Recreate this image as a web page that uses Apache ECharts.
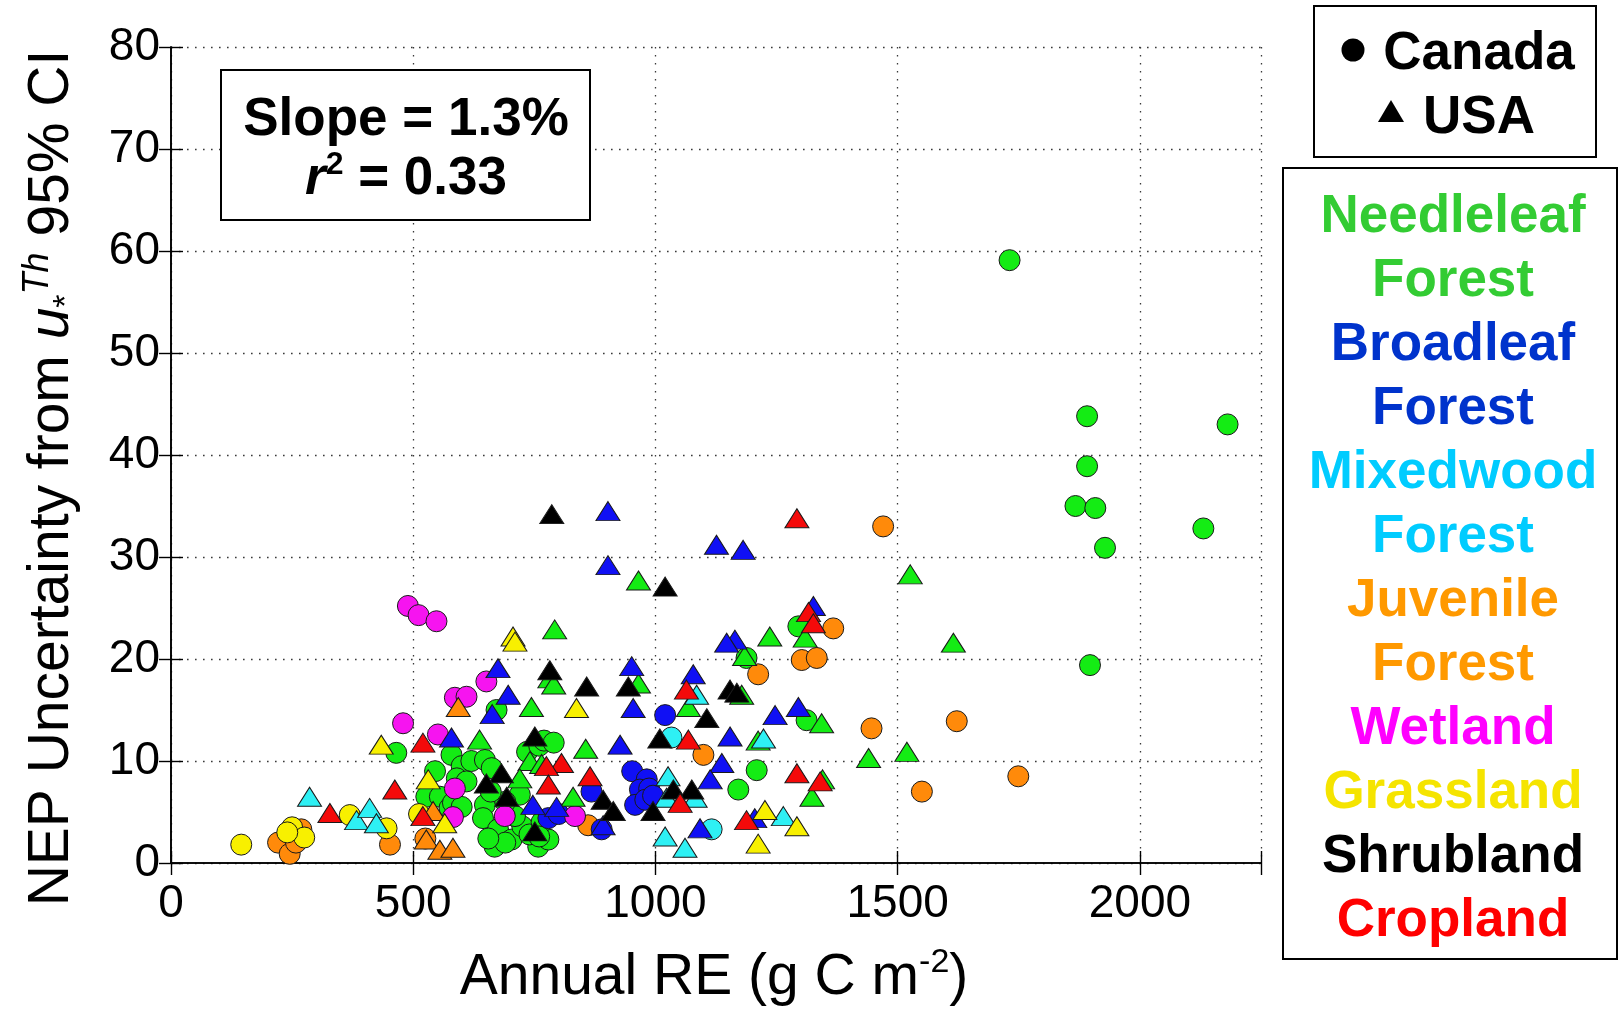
<!DOCTYPE html>
<html><head><meta charset="utf-8">
<script src="https://cdn.jsdelivr.net/npm/echarts@6/dist/echarts.min.js"></script>
<style>html,body{margin:0;padding:0;background:#fff}#c{width:1619px;height:1013px}</style>
</head><body><div id="c"></div>
<script>
// ---------- data ----------
const xTickValues = [0, 500, 1000, 1500, 2000];
const yTickValues = [0, 10, 20, 30, 40, 50, 60, 70, 80];

const landCovers = ['Needleleaf Forest', 'Broadleaf Forest', 'Mixedwood Forest', 'Juvenile Forest',
  'Wetland', 'Grassland', 'Shrubland', 'Cropland'];
const countries = ['Canada', 'USA'];

const needleleafCanada = [[1731,59.1],[1891,43.8],[1891,38.9],[2181,43.0],[1867,35.0],[1908,34.8],[2131,32.8],[1928,30.9],[1897,19.4],
  [1295,23.2],[1188,20.1],[1312,14.0],[1209,9.1],[1171,7.2],[465,10.8],[672,15.0],
  [579,10.6],[600,9.5],[620,10.0],[648,10.1],[662,9.3],[735,10.9],[760,11.5],[770,12.0],[790,11.8],
  [527,6.5],[555,6.5],[575,5.4],[582,5.9],[600,5.5],[590,8.3],[610,8.0],[545,9.0],
  [648,5.7],[720,6.7],[644,4.4],[675,3.3],[703,2.3],[668,1.6],[725,3.6],[758,1.6],[779,2.3],[740,2.8],
  [690,2.0],[655,2.4],[710,4.6],[765,4.0],[690,6.0],[660,7.0],[760,2.6]];
const needleleafUSA = [[792,22.9],[782,18.1],[790,17.5],[744,15.3],[637,12.1],[741,10.0],[765,9.7],[720,8.3],[856,11.2],[830,6.5],
  [965,27.7],[965,17.6],[1068,15.3],[1178,16.5],[1184,20.3],[1236,22.2],[1309,22.1],[1343,13.7],[1323,6.5],[1345,8.2],
  [1212,12.0],[1440,10.3],[1519,10.9],[1526,28.3],[1615,21.6]];
const broadleafCanada = [[1020,14.5],[952,9.0],[982,8.2],[968,7.2],[987,7.3],[958,5.7],[979,6.2],[868,7.0],[889,3.3],[779,4.4],[800,4.8],[995,6.6]];
const broadleafUSA = [[902,34.5],[1126,31.2],[1181,30.7],[902,29.2],[1326,25.2],[1164,21.9],[1147,21.6],[675,19.1],[951,19.3],[696,16.5],
  [663,14.6],[954,15.2],[1078,18.5],[1247,14.5],[1295,15.3],[1154,12.4],[579,12.3],[927,11.6],[1137,9.8],[1113,8.2],
  [747,5.7],[796,5.5],[892,3.7],[1092,3.4],[1205,4.4]];
const mixedwoodCanada = [[1033,12.3],[1116,3.3]];
const mixedwoodUSA = [[286,6.5],[383,4.2],[410,5.4],[424,3.9],[1085,16.5],[1223,12.2],[1026,8.5],[1023,6.4],[1082,6.4],[1020,2.6],[1061,1.5],[1264,4.6]];
const juvenileCanada = [[1470,33.0],[1367,23.0],[1302,19.9],[1333,20.1],[1212,18.5],[1446,13.2],[1622,13.9],[1749,8.5],[1550,7.0],
  [1099,10.6],[861,3.7],[452,1.8],[525,2.4],[221,2.0],[245,0.9],[269,3.3],[258,2.0]];
const juvenileUSA = [[593,15.3],[541,5.1],[527,2.3],[555,1.3],[582,1.5]];
const wetlandCanada = [[489,25.2],[511,24.3],[548,23.7],[651,17.8],[586,16.2],[610,16.3],[479,13.7],[551,12.6],[586,7.3],[582,4.5],[689,4.6],[834,4.6]];
const grasslandCanada = [[145,1.8],[250,3.5],[275,2.5],[240,3.0],[369,4.7],[445,3.4],[512,4.8]];
const grasslandUSA = [[706,22.2],[710,21.7],[837,15.2],[434,11.6],[531,8.2],[565,3.9],[1226,5.2],[1292,3.6],[1212,1.9]];
const shrublandUSA = [[786,34.2],[1020,27.1],[782,18.9],[858,17.3],[944,17.3],[1154,17.0],[1168,16.7],[1106,14.2],[751,12.4],[1009,12.2],
  [682,8.8],[651,7.8],[693,6.5],[892,6.2],[913,5.1],[1037,7.2],[1075,7.2],[995,5.1],[751,3.1]];
const croplandUSA = [[1292,33.8],[1316,24.6],[1326,23.5],[520,11.8],[1068,12.1],[1064,17.0],[806,9.8],[775,9.5],[779,7.7],[865,8.5],
  [462,7.2],[520,4.6],[328,4.9],[1051,5.9],[1188,4.2],[1292,8.8],[1340,8.0]];

// drawing order: [land cover, country, data]
const groups = [
  ['Needleleaf Forest', 'Canada', needleleafCanada],
  ['Juvenile Forest', 'Canada', juvenileCanada],
  ['Grassland', 'Canada', grasslandCanada],
  ['Broadleaf Forest', 'Canada', broadleafCanada],
  ['Mixedwood Forest', 'Canada', mixedwoodCanada],
  ['Wetland', 'Canada', wetlandCanada],
  ['Needleleaf Forest', 'USA', needleleafUSA],
  ['Broadleaf Forest', 'USA', broadleafUSA],
  ['Mixedwood Forest', 'USA', mixedwoodUSA],
  ['Juvenile Forest', 'USA', juvenileUSA],
  ['Grassland', 'USA', grasslandUSA],
  ['Shrubland', 'USA', shrublandUSA],
  ['Cropland', 'USA', croplandUSA]
];

const legendLines = ['Needleleaf', 'Forest', 'Broadleaf', 'Forest', 'Mixedwood', 'Forest', 'Juvenile', 'Forest',
  'Wetland', 'Grassland', 'Shrubland', 'Cropland'];
const legendLineCover = ['Needleleaf Forest', 'Needleleaf Forest', 'Broadleaf Forest', 'Broadleaf Forest',
  'Mixedwood Forest', 'Mixedwood Forest', 'Juvenile Forest', 'Juvenile Forest', 'Wetland', 'Grassland', 'Shrubland', 'Cropland'];

// ---------- styles ----------
const markerColor = {
  'Needleleaf Forest': '#14ec14', 'Broadleaf Forest': '#1010f4', 'Mixedwood Forest': '#2ef0f4',
  'Juvenile Forest': '#ff8a0a', 'Wetland': '#f614f0', 'Grassland': '#f8f000', 'Shrubland': '#000000', 'Cropland': '#f40a0a'
};
const textColor = {
  'Needleleaf Forest': '#33cc33', 'Broadleaf Forest': '#0033cc', 'Mixedwood Forest': '#00ccff',
  'Juvenile Forest': '#ff9900', 'Wetland': '#ff00ff', 'Grassland': '#f5e400', 'Shrubland': '#000000', 'Cropland': '#ff0000'
};
const FONT = "'Liberation Sans', Arial, Helvetica, sans-serif";

const chart = echarts.init(document.getElementById('c'), null, {renderer: 'canvas'});

const series = groups.map(([cover, country, data]) => ({
  type: 'scatter',
  name: cover + ' (' + country + ')',
  data: data,
  symbol: country === 'Canada' ? 'circle' : 'triangle',
  symbolSize: country === 'Canada' ? 21 : [24, 19],
  itemStyle: {color: markerColor[cover], borderColor: '#1a1a1a', borderWidth: 1, opacity: 1},
  emphasis: {disabled: true}
}));

const tickFmt = (arr) => (v) => arr.indexOf(v) >= 0 ? String(v) : '';
const gridDots = {show: true, lineStyle: {color: '#3a3a3a', width: 1.3, type: [1.6, 6.4]}};
const axisLineStyle = {show: true, lineStyle: {color: '#000', width: 1.6}};
const tickStyle = {show: true, inside: true, length: 12, lineStyle: {color: '#000', width: 1.4}};

const legendGraphics = [];
legendGraphics.push({type: 'rect', shape: {x: 1314, y: 6, width: 282, height: 151},
  style: {fill: '#fff', stroke: '#000', lineWidth: 2}, z: 100});
legendGraphics.push({type: 'circle', shape: {cx: 1353, cy: 50, r: 11.5}, style: {fill: '#000'}, z: 101});
legendGraphics.push({type: 'polygon', shape: {points: [[1391, 100], [1404, 122], [1378, 122]]}, style: {fill: '#000'}, z: 101});
legendGraphics.push({type: 'text', x: 1479, y: 54, z: 101,
  style: {text: countries[0], fontFamily: FONT, fontWeight: 'bold', fontSize: 53, fill: '#000', align: 'center', verticalAlign: 'middle'}});
legendGraphics.push({type: 'text', x: 1479, y: 118, z: 101,
  style: {text: countries[1], fontFamily: FONT, fontWeight: 'bold', fontSize: 53, fill: '#000', align: 'center', verticalAlign: 'middle'}});
legendGraphics.push({type: 'rect', shape: {x: 1283, y: 168, width: 334, height: 791},
  style: {fill: '#fff', stroke: '#000', lineWidth: 2}, z: 100});
legendLines.forEach((t, i) => {
  legendGraphics.push({type: 'text', x: 1453, y: 217 + i * 64, z: 101,
    style: {text: t, fontFamily: FONT, fontWeight: 'bold', fontSize: 53, fill: textColor[legendLineCover[i]],
      align: 'center', verticalAlign: 'middle'}});
});

const option = {
  animation: false,
  backgroundColor: '#fff',
  grid: {left: 171, top: 47, right: 358, bottom: 150, containLabel: false},
  xAxis: [
    {type: 'value', position: 'bottom', min: 0, max: 2250, interval: 500,
      axisLine: axisLineStyle, axisTick: tickStyle, splitLine: gridDots,
      axisLabel: {formatter: tickFmt(xTickValues), fontFamily: FONT, fontSize: 46, color: '#000', margin: 18}},
    {type: 'value', position: 'top', min: 0, max: 2250, interval: 500,
      axisLine: axisLineStyle, axisTick: tickStyle, splitLine: {show: false}, axisLabel: {show: false}}
  ],
  yAxis: [
    {type: 'value', position: 'left', min: 0, max: 80, interval: 10,
      axisLine: axisLineStyle, axisTick: tickStyle, splitLine: gridDots,
      axisLabel: {formatter: tickFmt(yTickValues), fontFamily: FONT, fontSize: 46, color: '#000', margin: 11}},
    {type: 'value', position: 'right', min: 0, max: 80, interval: 10,
      axisLine: axisLineStyle, axisTick: tickStyle, splitLine: {show: false}, axisLabel: {show: false}}
  ],
  series: series,
  graphic: [
    // annotation box
    {type: 'rect', shape: {x: 221, y: 70, width: 369, height: 150}, style: {fill: '#fff', stroke: '#000', lineWidth: 2}, z: 100},
    {type: 'text', x: 406, y: 120, z: 101,
      style: {text: 'Slope = 1.3%', fontFamily: FONT, fontWeight: 'bold', fontSize: 53, fill: '#000', align: 'center', verticalAlign: 'middle'}},
    {type: 'text', x: 406, y: 179, z: 101,
      style: {text: '{ri|r}{sp|2}{b| = 0.33}', align: 'center', verticalAlign: 'middle',
        rich: {
          ri: {fontFamily: FONT, fontWeight: 'bold', fontStyle: 'italic', fontSize: 53, lineHeight: 60, fill: '#000'},
          sp: {fontFamily: FONT, fontWeight: 'bold', fontSize: 32, lineHeight: 34, verticalAlign: 'top', fill: '#000'},
          b: {fontFamily: FONT, fontWeight: 'bold', fontSize: 53, lineHeight: 60, fill: '#000'}
        }}},
    // x axis title
    {type: 'text', x: 714, y: 978, z: 101,
      style: {text: '{a|Annual RE (g C m}{s|-2}{a|)}', align: 'center', verticalAlign: 'middle',
        rich: {
          a: {fontFamily: FONT, fontSize: 57, lineHeight: 64, fill: '#000'},
          s: {fontFamily: FONT, fontSize: 34, lineHeight: 34, verticalAlign: 'top', fill: '#000'}
        }}},
    // y axis title
    {type: 'text', x: 52, y: 478, rotation: Math.PI / 2, z: 101,
      style: {text: '{a|NEP Uncertainty from }{i|u}{sb|*}{sp|Th}{a| 95% CI}', align: 'center', verticalAlign: 'middle',
        rich: {
          a: {fontFamily: FONT, fontSize: 57, lineHeight: 64, fill: '#000'},
          i: {fontFamily: FONT, fontStyle: 'italic', fontSize: 57, lineHeight: 64, fill: '#000'},
          sb: {fontFamily: FONT, fontSize: 34, lineHeight: 26, verticalAlign: 'bottom', fill: '#000'},
          sp: {fontFamily: FONT, fontStyle: 'italic', fontSize: 36, lineHeight: 36, verticalAlign: 'top', fill: '#000'}
        }}}
  ].concat(legendGraphics)
};
chart.setOption(option);
</script>
</body></html>
